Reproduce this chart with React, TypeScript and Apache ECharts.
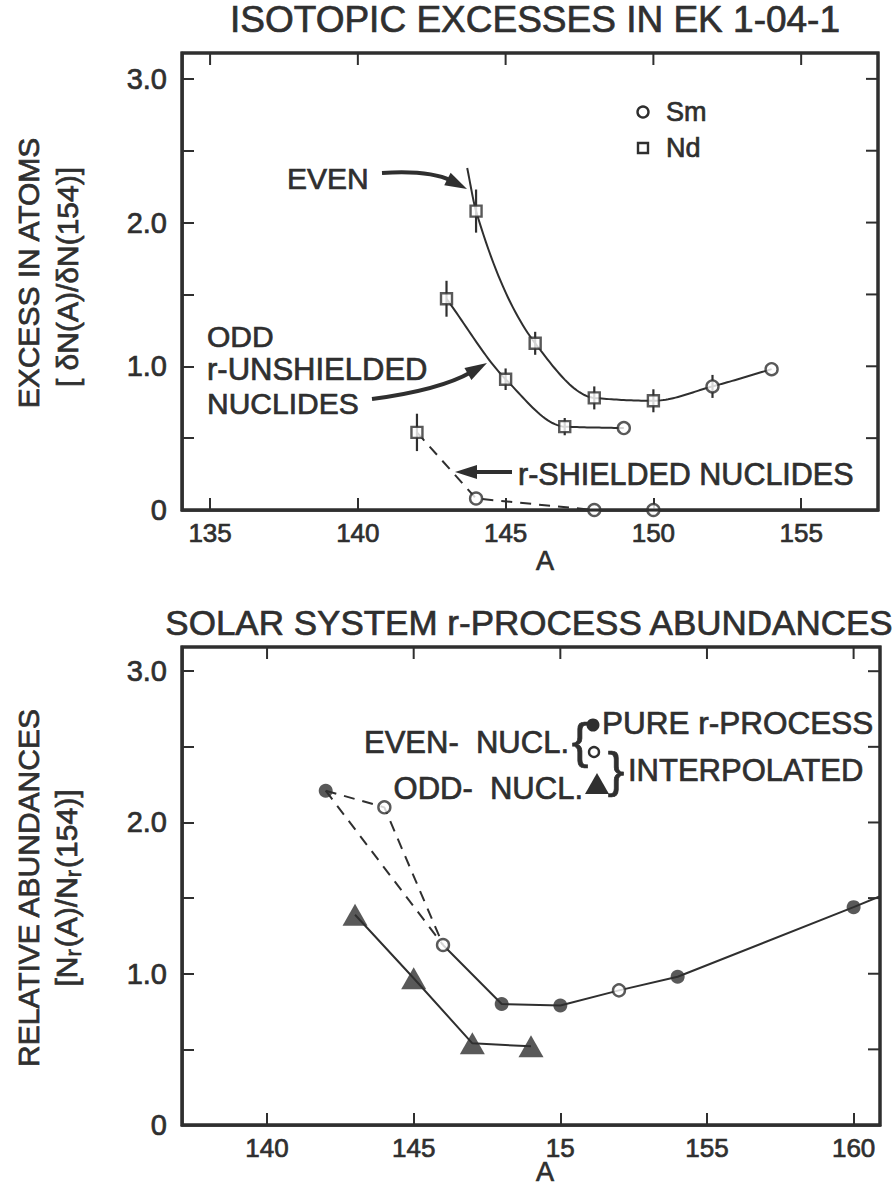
import React, { useEffect, useRef } from "react";
import * as echarts from "echarts";

const FONT = '"Liberation Sans", Arial, Helvetica, sans-serif';
const INK = "#2f2f2f";
const BOLDEN = 0.7;

// ---- Upper panel: isotopic excesses in EK 1-04-1 ----
const topTitle = "ISOTOPIC EXCESSES IN EK 1-04-1";
const topXTicks = [135, 140, 145, 150, 155];
const topXLabels = ["135", "140", "145", "150", "155"];
const topXRange = [134.05, 157.6];
const topYMax = 3.18;

// even nuclides
const evenMass = [144, 146, 148, 150, 152, 154];
const evenExcess = [2.08, 1.16, 0.78, 0.76, 0.86, 0.98];
const evenElement = ["Nd", "Nd", "Nd", "Nd", "Sm", "Sm"];
const evenErr = [0.15, 0.08, 0.08, 0.08, 0.08, 0];
// the fitted curve runs on above the A=144 point
const evenCurveLeadMass = [143.7];
const evenCurveLeadExcess = [2.38];

// odd r-unshielded nuclides
const oddMass = [143, 145, 147, 149];
const oddExcess = [1.47, 0.91, 0.58, 0.57];
const oddElement = ["Nd", "Nd", "Nd", "Sm"];
const oddErr = [0.125, 0.075, 0.06, 0];

// r-shielded nuclides
const shieldedMass = [142, 144, 148, 150];
const shieldedExcess = [0.54, 0.08, 0.0, 0.0];
const shieldedElement = ["Nd", "Sm", "Sm", "Sm"];
const shieldedErr = [0.13, 0, 0, 0];

// ---- Lower panel: solar system r-process abundances ----
const bottomTitle = "SOLAR SYSTEM r-PROCESS ABUNDANCES";
const bottomXTicks = [140, 145, 150, 155, 160];
const bottomXLabels = ["140", "145", "15", "155", "160"];
const bottomXRange = [137.1, 160.9];
const bottomYMax = 3.16;

const evenNuclMass = [142, 144, 146, 148, 150, 152, 154, 160, 162];
const evenNuclAbund = [2.21, 2.1, 1.19, 0.8, 0.79, 0.89, 0.98, 1.44, 1.6];
const evenNuclKind = ["pure", "interp", "interp", "pure", "pure", "interp", "pure", "pure", "pure"];

const oddNuclMass = [143, 145, 147, 149];
const oddNuclAbund = [1.39, 0.97, 0.54, 0.52];

const yTicks = [0, 0.5, 1, 1.5, 2, 2.5, 3];
const yLabelValues = [0, 1, 2, 3];
const yLabels = ["0", "1.0", "2.0", "3.0"];

const pts = (xs: number[], ys: number[]) => xs.map((x, i) => [x, ys[i]]);

// Monotone (Fritsch–Carlson) cubic through the given nodes, evaluated in data space
function monotoneCubic(xs: number[], ys: number[]) {
  const n = xs.length;
  const h: number[] = [];
  const d: number[] = [];
  for (let i = 0; i < n - 1; i++) {
    h[i] = xs[i + 1] - xs[i];
    d[i] = (ys[i + 1] - ys[i]) / h[i];
  }
  const m: number[] = new Array(n);
  m[0] = d[0];
  m[n - 1] = d[n - 2];
  for (let i = 1; i < n - 1; i++) {
    if (d[i - 1] * d[i] <= 0) m[i] = 0;
    else {
      const w1 = 2 * h[i] + h[i - 1];
      const w2 = h[i] + 2 * h[i - 1];
      m[i] = (w1 + w2) / (w1 / d[i - 1] + w2 / d[i]);
    }
  }
  return (i: number, t: number) => {
    const t2 = t * t;
    const t3 = t2 * t;
    return (
      (2 * t3 - 3 * t2 + 1) * ys[i] +
      (t3 - 2 * t2 + t) * h[i] * m[i] +
      (-2 * t3 + 3 * t2) * ys[i + 1] +
      (t3 - t2) * h[i] * m[i + 1]
    );
  };
}

function curve(axisIdx: number, xs: number[], ys: number[]) {
  const f = monotoneCubic(xs, ys);
  return {
    type: "custom",
    xAxisIndex: axisIdx,
    yAxisIndex: axisIdx,
    encode: { x: 0, y: 1 },
    data: [[xs[0], ys[0]]],
    z: 2,
    renderItem: (_p: any, api: any) => {
      const points: number[][] = [];
      for (let i = 0; i < xs.length - 1; i++) {
        const steps = 24;
        for (let k = i === 0 ? 0 : 1; k <= steps; k++) {
          const t = k / steps;
          points.push(api.coord([xs[i] + (xs[i + 1] - xs[i]) * t, f(i, t)]));
        }
      }
      return { type: "polyline", shape: { points }, style: { stroke: INK, lineWidth: 2, fill: null } };
    },
  };
}

function xAxisFor(gridIndex: number, range: number[], ticks: number[], labels: string[]) {
  return {
    type: "value",
    gridIndex,
    position: "bottom",
    min: range[0],
    max: range[1],
    axisLine: { show: true, onZero: false, lineStyle: { color: INK, width: 2.5 } },
    axisTick: { show: true, inside: true, length: 12, customValues: ticks, lineStyle: { color: INK, width: 2 } },
    splitLine: { show: false },
    axisLabel: {
      customValues: ticks,
      formatter: (v: number) => labels[ticks.indexOf(v)] ?? "",
      color: INK,
      fontFamily: FONT,
      fontSize: 26,
      margin: 10,
      textBorderColor: INK,
      textBorderWidth: BOLDEN,
    },
  };
}

function yAxisFor(gridIndex: number, max: number) {
  return {
    type: "value",
    gridIndex,
    position: "left",
    min: 0,
    max,
    axisLine: { show: true, onZero: false, lineStyle: { color: INK, width: 2.5 } },
    axisTick: { show: true, inside: true, length: 12, customValues: yTicks, lineStyle: { color: INK, width: 2 } },
    splitLine: { show: false },
    axisLabel: {
      customValues: yLabelValues,
      formatter: (v: number) => yLabels[yLabelValues.indexOf(v)] ?? "",
      color: INK,
      fontFamily: FONT,
      fontSize: 29,
      margin: 15,
      textBorderColor: INK,
      textBorderWidth: BOLDEN,
    },
  };
}

function errorBars(axisIdx: number, xs: number[], ys: number[], errs: number[]) {
  const data = xs
    .map((x, i) => [x, ys[i] - errs[i], ys[i] + errs[i]])
    .filter((_d, i) => errs[i] > 0);
  return {
    type: "custom",
    xAxisIndex: axisIdx,
    yAxisIndex: axisIdx,
    encode: { x: 0, y: [1, 2] },
    data,
    z: 3,
    renderItem: (_p: any, api: any) => {
      const a = api.coord([api.value(0), api.value(1)]);
      const b = api.coord([api.value(0), api.value(2)]);
      return {
        type: "line",
        shape: { x1: a[0], y1: a[1], x2: b[0], y2: b[1] },
        style: { stroke: INK, lineWidth: 2.2 },
      };
    },
  };
}

function markers(axisIdx: number, xs: number[], ys: number[], els: string[]) {
  const make = (el: string) => ({
    type: "scatter",
    xAxisIndex: axisIdx,
    yAxisIndex: axisIdx,
    symbol: el === "Nd" ? "rect" : "circle",
    symbolSize: el === "Nd" ? 11 : 12,
    itemStyle: { color: "#fff", borderColor: INK, borderWidth: 2.4 },
    z: 5,
    data: xs.map((x, i) => [x, ys[i], els[i]]).filter((d) => d[2] === el),
  });
  return [make("Nd"), make("Sm")];
}

function arrow(x0: number, y0: number, cx: number, cy: number, x1: number, y1: number) {
  const dx = x1 - cx;
  const dy = y1 - cy;
  const len = Math.hypot(dx, dy) || 1;
  const ux = dx / len;
  const uy = dy / len;
  const hl = 22;
  const hw = 7;
  const bx = x1 - ux * hl;
  const by = y1 - uy * hl;
  return [
    {
      type: "bezierCurve",
      shape: { x1: x0, y1: y0, cpx1: cx, cpy1: cy, x2: bx + ux * 4, y2: by + uy * 4 },
      style: { stroke: INK, lineWidth: 4, fill: null },
      z: 10,
    },
    {
      type: "polygon",
      shape: {
        points: [
          [x1, y1],
          [bx - uy * hw, by + ux * hw],
          [bx + uy * hw, by - ux * hw],
        ],
      },
      style: { fill: INK },
      z: 10,
    },
  ];
}

function txt(text: string, x: number, y: number, size: number, align = "left", rotation = 0) {
  return {
    type: "text",
    x,
    y,
    rotation,
    z: 10,
    style: {
      text,
      fill: INK,
      stroke: INK,
      lineWidth: BOLDEN,
      font: `${size}px ${FONT}`,
      align,
      verticalAlign: "middle",
    },
  };
}

// Full plot frame plus inward ticks on the top and right edges, located through the grid's axes
function frameMarks(chart: any, gridIndex: number, xRange: number[], yMax: number, xTicks: number[]) {
  const at = (x: number, y: number) => chart.convertToPixel({ gridIndex }, [x, y]) as number[];
  const tl = at(xRange[0], yMax);
  const br = at(xRange[1], 0);
  const out: any[] = [
    {
      type: "rect",
      z: 100,
      silent: true,
      shape: { x: tl[0], y: tl[1], width: br[0] - tl[0], height: br[1] - tl[1] },
      style: { fill: "rgba(0,0,0,0)", stroke: INK, lineWidth: 3 },
    },
  ];
  xTicks.forEach((v) => {
    const p = at(v, yMax);
    out.push({
      type: "line",
      z: 100,
      silent: true,
      shape: { x1: p[0], y1: p[1], x2: p[0], y2: p[1] + 12 },
      style: { stroke: INK, lineWidth: 2 },
    });
  });
  yTicks.forEach((v) => {
    const p = at(xRange[1], v);
    out.push({
      type: "line",
      z: 100,
      silent: true,
      shape: { x1: p[0], y1: p[1], x2: p[0] - 12, y2: p[1] },
      style: { stroke: INK, lineWidth: 2 },
    });
  });
  return out;
}

export default function App() {
  const ref = useRef<HTMLDivElement>(null);

  useEffect(() => {
    document.body.style.margin = "0";
    document.body.style.overflow = "hidden";
    const chart = echarts.init(ref.current!, null, { renderer: "svg" });

    const evenNucl = pts(evenNuclMass, evenNuclAbund);
    const solidEven = evenNucl.filter((d) => d[0] >= 146);
    const dashedEven = evenNucl.filter((d) => d[0] <= 146);
    const dashedDirect = evenNucl.filter((d) => d[0] === 142 || d[0] === 146);

    const lineBase = { type: "line", symbol: "none", z: 2 };
    const gridFrame = { show: true, borderColor: INK, borderWidth: 3, backgroundColor: "transparent" };

    const option: any = {
      animation: false,
      backgroundColor: "#ffffff",
      grid: [
        { left: 182, top: 53, width: 696, height: 457, ...gridFrame },
        { left: 182, top: 647, width: 698, height: 478, ...gridFrame },
      ],
      xAxis: [
        xAxisFor(0, topXRange, topXTicks, topXLabels),
        xAxisFor(1, bottomXRange, bottomXTicks, bottomXLabels),
      ],
      yAxis: [yAxisFor(0, topYMax), yAxisFor(1, bottomYMax)],
      series: [
        // upper panel curves
        curve(0, evenCurveLeadMass.concat(evenMass), evenCurveLeadExcess.concat(evenExcess)),
        curve(0, oddMass, oddExcess),
        { ...lineBase, xAxisIndex: 0, yAxisIndex: 0, data: pts(shieldedMass, shieldedExcess), lineStyle: { color: INK, width: 2, type: [11, 8] } },
        errorBars(0, evenMass, evenExcess, evenErr),
        errorBars(0, oddMass, oddExcess, oddErr),
        errorBars(0, shieldedMass, shieldedExcess, shieldedErr),
        ...markers(0, evenMass, evenExcess, evenElement),
        ...markers(0, oddMass, oddExcess, oddElement),
        ...markers(0, shieldedMass, shieldedExcess, shieldedElement),

        // lower panel
        { ...lineBase, xAxisIndex: 1, yAxisIndex: 1, data: solidEven, lineStyle: { color: INK, width: 2 } },
        { ...lineBase, xAxisIndex: 1, yAxisIndex: 1, data: dashedEven, lineStyle: { color: INK, width: 2, type: [11, 8] } },
        { ...lineBase, xAxisIndex: 1, yAxisIndex: 1, data: dashedDirect, lineStyle: { color: INK, width: 2, type: [11, 8] } },
        { ...lineBase, xAxisIndex: 1, yAxisIndex: 1, data: pts(oddNuclMass, oddNuclAbund), lineStyle: { color: INK, width: 2 } },
        {
          type: "scatter",
          xAxisIndex: 1,
          yAxisIndex: 1,
          symbol: "circle",
          symbolSize: 14,
          itemStyle: { color: INK },
          z: 5,
          data: evenNucl.filter((_d, i) => evenNuclKind[i] === "pure"),
        },
        {
          type: "scatter",
          xAxisIndex: 1,
          yAxisIndex: 1,
          symbol: "circle",
          symbolSize: 12,
          itemStyle: { color: "#fff", borderColor: INK, borderWidth: 2.4 },
          z: 5,
          data: evenNucl.filter((_d, i) => evenNuclKind[i] === "interp"),
        },
        {
          type: "scatter",
          xAxisIndex: 1,
          yAxisIndex: 1,
          symbol: "triangle",
          symbolSize: [25, 22],
          itemStyle: { color: INK },
          z: 5,
          data: pts(oddNuclMass, oddNuclAbund),
        },
      ],
    };

    chart.setOption(option);

    const graphic: any[] = [
      ...frameMarks(chart, 0, topXRange, topYMax, topXTicks),
      ...frameMarks(chart, 1, bottomXRange, bottomYMax, bottomXTicks),

      // titles
      txt(topTitle, 535, 19, 37, "center"),
      txt(bottomTitle, 529, 622, 35, "center"),
      // axis names
      txt("A", 545, 561, 27, "center"),
      txt("A", 545, 1172, 27, "center"),
      txt("EXCESS IN ATOMS", 28, 273, 30, "center", Math.PI / 2),
      txt("[ δN(A)/δN(154)]", 67, 277, 30, "center", Math.PI / 2),
      txt("RELATIVE ABUNDANCES", 28, 888, 30, "center", Math.PI / 2),
      {
        type: "text",
        x: 66,
        y: 888,
        rotation: Math.PI / 2,
        z: 10,
        style: {
          text: "{a|[N}{s|r}{a|(A)/N}{s|r}{a|(154)]}",
          align: "center",
          verticalAlign: "middle",
          rich: {
            a: { fill: INK, stroke: INK, lineWidth: BOLDEN, fontFamily: FONT, fontSize: 30, lineHeight: 34 },
            s: { fill: INK, stroke: INK, lineWidth: BOLDEN, fontFamily: FONT, fontSize: 22, lineHeight: 34, padding: [14, 2, 0, 0] },
          },
        },
      },

      // upper panel annotations
      { type: "circle", shape: { cx: 643, cy: 112, r: 5.5 }, style: { fill: "#fff", stroke: INK, lineWidth: 2.4 }, z: 10 },
      txt("Sm", 666, 112, 27),
      { type: "rect", shape: { x: 638, y: 143, width: 10, height: 10 }, style: { fill: "#fff", stroke: INK, lineWidth: 2.4 }, z: 10 },
      txt("Nd", 666, 148, 27),

      txt("EVEN", 287, 178, 30),
      ...arrow(382, 173, 430, 170, 467, 189),

      txt("ODD", 207, 336, 30),
      txt("r-UNSHIELDED", 207, 369, 31),
      txt("NUCLIDES", 207, 403, 30),
      ...arrow(372, 399, 440, 390, 487, 363),

      txt("r-SHIELDED NUCLIDES", 518, 474, 30.5),
      ...arrow(512, 472, 490, 472, 455, 472),

      // lower panel key
      txt("EVEN-  NUCL.", 569, 742, 31, "right"),
      txt("{", 580, 741, 50, "center"),
      { type: "circle", shape: { cx: 593, cy: 725, r: 6.5 }, style: { fill: INK }, z: 10 },
      txt("PURE r-PROCESS", 602, 723, 31.5),
      { type: "circle", shape: { cx: 594, cy: 752, r: 5 }, style: { fill: "#fff", stroke: INK, lineWidth: 2.4 }, z: 10 },
      txt("}", 616, 770, 50, "center"),
      txt("INTERPOLATED", 628, 770, 31),
      txt("ODD-  NUCL.", 583, 788, 31, "right"),
      { type: "polygon", shape: { points: [[597, 773], [585, 794], [609, 794]] }, style: { fill: INK }, z: 10 },
    ];

    chart.setOption({ graphic });
    return () => chart.dispose();
  }, []);

  return <div ref={ref} style={{ width: 893, height: 1192 }} />;
}
